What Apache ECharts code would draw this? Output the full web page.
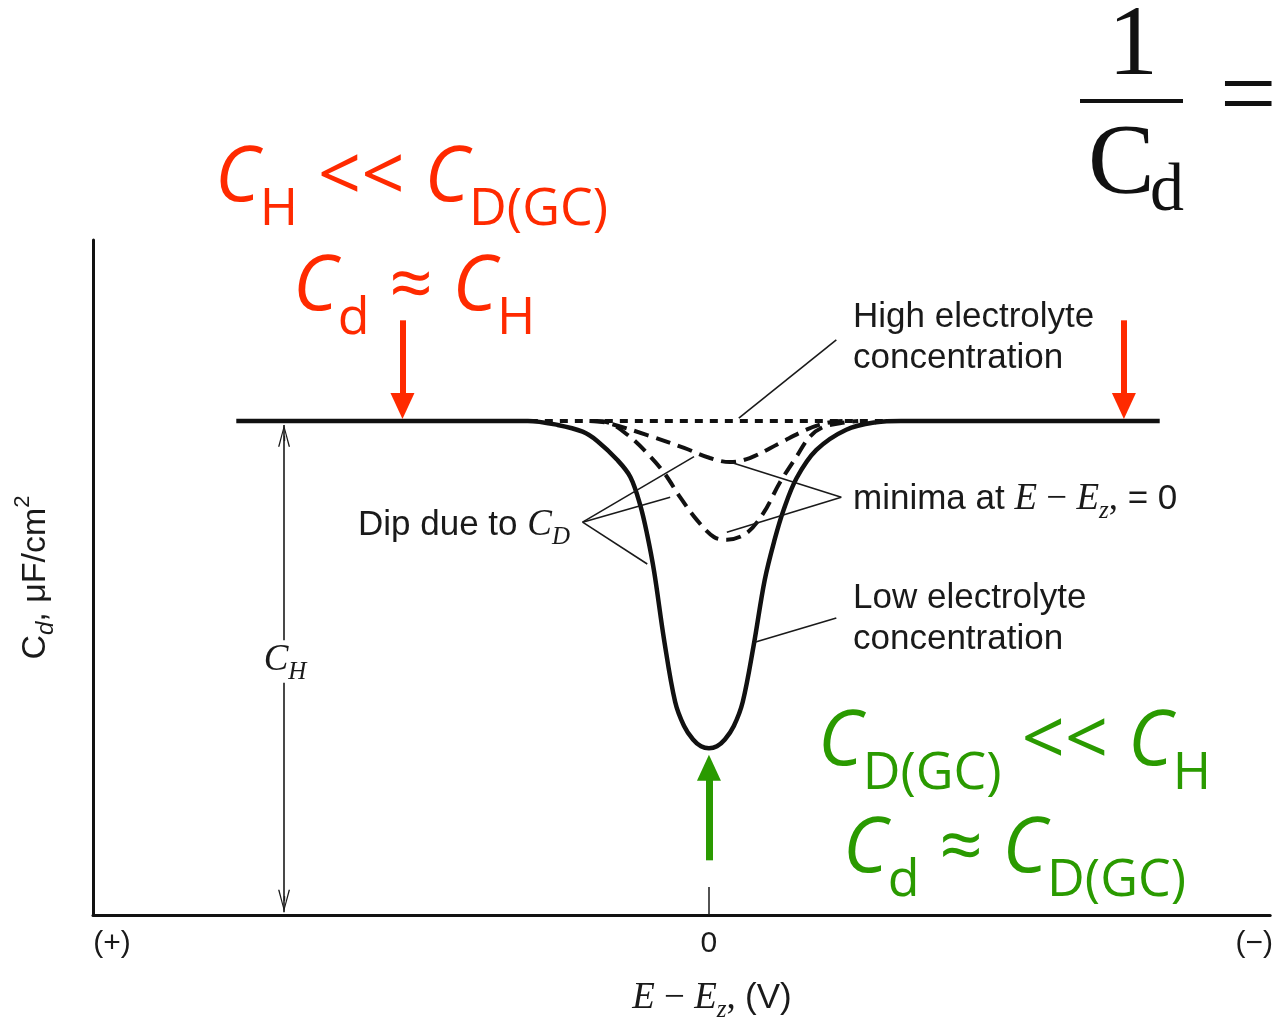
<!DOCTYPE html>
<html>
<head>
<meta charset="utf-8">
<title>Cd vs E - Ez</title>
<script src="https://cdn.jsdelivr.net/npm/echarts@6/dist/echarts.min.js"></script>
<style>
  html, body { margin: 0; padding: 0; background: #fff; }
  #chart { width: 1276px; height: 1021px; }
</style>
</head>
<body>
<div id="chart"></div>
<script>
// x = E - Ez (0 at the potential of zero charge), y = Cd in arbitrary units (0..100)

// low electrolyte concentration (solid, deep dip)
var lowX = [-0.475, -0.210, -0.182, -0.152, -0.127, -0.112, -0.092, -0.079, -0.069, -0.062, -0.055, -0.045, -0.034, -0.025, -0.016, -0.008, 0.000,
            0.008, 0.016, 0.025, 0.034, 0.045, 0.056, 0.066, 0.075, 0.088, 0.108, 0.138, 0.168, 0.193, 0.220, 0.453];
var lowY = [73.2, 73.2, 73.2, 72.6, 71.6, 70.2, 67.4, 64.9, 60.7, 56.3, 50.8, 40.7, 31.6, 28.0, 26.0, 25.0, 24.7,
            25.0, 26.0, 28.0, 31.6, 40.0, 49.6, 55.6, 60.0, 64.7, 68.9, 71.9, 73.0, 73.2, 73.2, 73.2];

// intermediate concentration (long dashes, medium dip)
var midX = [-0.115, -0.102, -0.079, -0.062, -0.045, -0.029, -0.012, 0.005, 0.018, 0.038, 0.055, 0.071, 0.088, 0.101, 0.115, 0.138, 0.150];
var midY = [73.2, 73.0, 70.8, 68.4, 65.5, 61.9, 58.5, 56.0, 55.6, 56.6, 59.6, 64.0, 67.9, 70.8, 72.3, 73.0, 73.2];

// higher concentration (long dashes, shallow dip)
var dilX = [-0.120, -0.102, -0.062, -0.025, 0.001, 0.021, 0.041, 0.071, 0.098, 0.118, 0.135];
var dilY = [73.2, 72.9, 71.1, 69.2, 67.7, 67.1, 67.7, 69.9, 71.9, 72.9, 73.2];

// high electrolyte concentration (short dashes, flat)
var highX = [-0.180, 0.190];
var highY = [73.2, 73.2];

// x axis labels
var xTickVals = [-0.600, 0, 0.548];
var xTickText = ['(+)', '0', '(\u2212)'];

// thin leader lines [x1, y1, x2, y2]
var leaders = [
  [0.128, 85.2, 0.030, 73.6],
  [0.133, 61.9, 0.021, 67.1],
  [0.133, 61.9, 0.018, 56.7],
  [0.128, 44.0, 0.046, 40.4],
  [-0.127, 58.2, -0.015, 67.9],
  [-0.127, 58.2, -0.039, 61.9],
  [-0.127, 58.2, -0.062, 52.0]
];

var RED = '#ff2a00';
var GREEN = '#2a9a00';
var INK = '#1a1a1a';
var SANS = '"Liberation Sans", Arial, sans-serif';
var SERIF = '"Liberation Serif", "Times New Roman", serif';
var CAL = '"Open Sans", "Noto Sans", sans-serif';
var CHEVRON = 'path://M0,22 L6,0 L12,22 L10.6,22 L6,4 L1.4,22 Z';

function pairs(xs, ys) {
  return xs.map(function (x, i) { return [x, ys[i]]; });
}

function arrow(x, y1, y2, color, width) {
  return [
    { coord: [x, y1], symbol: 'none', lineStyle: { color: color, width: width, type: 'solid' }, itemStyle: { color: color } },
    { coord: [x, y2], symbol: 'triangle', symbolSize: [24, 26], itemStyle: { color: color } }
  ];
}

function chevron(x, y1, y2) {
  return [
    { coord: [x, y1], symbol: 'none', lineStyle: { color: INK, width: 1.4, type: 'solid' }, itemStyle: { color: INK } },
    { coord: [x, y2], symbol: CHEVRON, symbolSize: [12, 22], symbolKeepAspect: false, itemStyle: { color: INK } }
  ];
}

function plain(x1, y1, x2, y2) {
  return [
    { coord: [x1, y1], symbol: 'none', lineStyle: { color: INK, width: 1.6, type: 'solid' } },
    { coord: [x2, y2], symbol: 'none' }
  ];
}

var markData = leaders.map(function (l) { return plain(l[0], l[1], l[2], l[3]); });
// C_H double arrow
markData.push(plain(-0.427, 40.7, -0.427, 72.6));
markData.push(chevron(-0.427, 70.2, 71.0));
markData.push(plain(-0.427, 34.4, -0.427, 0.4));
markData.push(chevron(-0.427, 2.8, 2.1));
// coloured arrows
markData.push(arrow(-0.308, 88.1, 75.4, RED, 6));
markData.push(arrow(0.417, 88.1, 75.4, RED, 6));
markData.push(arrow(0, 8.1, 21.8, GREEN, 7));

function eqRich() {
  return {
    c: { fontFamily: CAL, fontSize: 76, fontStyle: 'italic', lineHeight: 110, verticalAlign: 'middle' },
    s: { fontFamily: CAL, fontSize: 52, lineHeight: 110, verticalAlign: 'middle', padding: [62, 0, 0, 0] },
    o: { fontFamily: CAL, fontSize: 76, lineHeight: 110, verticalAlign: 'middle' }
  };
}

function noteRich() {
  return {
    t: { fontFamily: SANS, fontSize: 35, lineHeight: 44, verticalAlign: 'middle' },
    e: { fontFamily: SERIF, fontSize: 37, fontStyle: 'italic', lineHeight: 44, verticalAlign: 'middle' },
    m: { fontFamily: SERIF, fontSize: 37, lineHeight: 44, verticalAlign: 'middle' },
    z: { fontFamily: SERIF, fontSize: 25, fontStyle: 'italic', lineHeight: 44, verticalAlign: 'middle', padding: [24, 0, 0, 0] }
  };
}

function txt(x, y, text, color, rich, align, font, lineHeight) {
  var style = {
    text: text, fill: color, rich: rich,
    font: font || ('35px ' + SANS),
    textAlign: align || 'left', textVerticalAlign: 'middle'
  };
  if (lineHeight) style.lineHeight = lineHeight;
  return { type: 'text', x: x, y: y, silent: true, z: 100, style: style };
}

var graphics = [
  txt(215, 179, '{c|C}{s|H}{o| << }{c|C}{s|D(GC)}', RED, eqRich()),
  txt(293, 288, '{c|C}{s|d}{o| \u2248 }{c|C}{s|H}', RED, eqRich()),
  txt(818, 743, '{c|C}{s|D(GC)}{o| << }{c|C}{s|H}', GREEN, eqRich()),
  txt(843, 850, '{c|C}{s|d}{o| \u2248 }{c|C}{s|D(GC)}', GREEN, eqRich()),

  txt(853, 338, 'High electrolyte\nconcentration', INK, null, 'left', '35px ' + SANS, 41),
  txt(853, 619, 'Low electrolyte\nconcentration', INK, null, 'left', '35px ' + SANS, 41),
  txt(853, 499, '{t|minima at }{e|E}{m| \u2212 }{e|E}{z|z}{m|,}{t| = 0}', INK, noteRich()),
  txt(358, 525, '{t|Dip due to }{e|C}{z|D}', INK, noteRich()),
  txt(285, 660, '{e|C}{z|H}', INK, noteRich(), 'center'),
  txt(712, 998, '{e|E}{m| \u2212 }{e|E}{z|z}{m|, }{t|(V)}', INK, noteRich(), 'center'),

  // 1 / Cd =
  txt(1133, 48, '1', '#111', null, 'center', '100px ' + SERIF),
  { type: 'rect', silent: true, z: 100, shape: { x: 1080, y: 99, width: 103, height: 4 }, style: { fill: '#111' } },
  txt(1088, 166, 'C', '#111', null, 'left', '100px ' + SERIF),
  txt(1150, 192, 'd', '#111', null, 'left', '68px ' + SERIF),
  txt(1220, 101, '=', '#111', null, 'left', '100px ' + SERIF)
];

var chart = echarts.init(document.getElementById('chart'));

var option = {
  animation: false,
  backgroundColor: '#fff',
  grid: { left: 93, right: 0, top: 240, bottom: 106 },
  xAxis: {
    type: 'value', min: -0.619, max: 0.564,
    axisLine: { onZero: false, lineStyle: { color: '#111', width: 3 } },
    axisTick: { show: true, customValues: [0], inside: true, length: 28, lineStyle: { color: INK, width: 1.5 } },
    axisLabel: {
      customValues: xTickVals, color: INK, fontFamily: SANS, fontSize: 30, margin: 14,
      formatter: function (v) {
        var best = 0;
        for (var i = 1; i < xTickVals.length; i++) {
          if (Math.abs(xTickVals[i] - v) < Math.abs(xTickVals[best] - v)) best = i;
        }
        return xTickText[best];
      }
    },
    splitLine: { show: false }
  },
  yAxis: {
    type: 'value', min: 0, max: 100,
    name: '{c|C}{s|d}{c|, \u03bcF/cm}{p|2}',
    nameLocation: 'middle', nameGap: 34, nameRotate: 90,
    nameTextStyle: {
      color: INK, fontFamily: SANS, fontSize: 34,
      rich: {
        c: { color: INK, fontFamily: SANS, fontSize: 34, lineHeight: 46 },
        s: { color: INK, fontFamily: SANS, fontSize: 24, fontStyle: 'italic', lineHeight: 46, padding: [20, 0, 0, 0] },
        p: { color: INK, fontFamily: SANS, fontSize: 22, lineHeight: 46, padding: [0, 0, 26, 0] }
      }
    },
    axisLine: { show: true, onZero: false, lineStyle: { color: '#111', width: 3 } },
    axisTick: { show: false },
    axisLabel: { show: false },
    splitLine: { show: false }
  },
  series: [
    {
      name: 'High electrolyte concentration', type: 'line', data: pairs(highX, highY),
      showSymbol: false, silent: true, z: 2,
      lineStyle: { color: '#111', width: 4, type: [8, 7] }
    },
    {
      name: 'shallow dip', type: 'line', data: pairs(dilX, dilY), smooth: 0.35,
      showSymbol: false, silent: true, z: 3,
      lineStyle: { color: '#111', width: 4, type: [15, 8] }
    },
    {
      name: 'medium dip', type: 'line', data: pairs(midX, midY), smooth: 0.35,
      showSymbol: false, silent: true, z: 3,
      lineStyle: { color: '#111', width: 4, type: [15, 8] }
    },
    {
      name: 'Low electrolyte concentration', type: 'line', data: pairs(lowX, lowY), smooth: 0.35,
      showSymbol: false, silent: true, z: 4,
      lineStyle: { color: '#111', width: 4.5 }
    },
    {
      name: 'annotations', type: 'line', data: [], silent: true, z: 6,
      markLine: {
        silent: true, animation: false, precision: 4,
        label: { show: false },
        emphasis: { disabled: true },
        data: markData
      }
    }
  ],
  graphic: graphics
};

chart.setOption(option);
</script>
</body>
</html>
